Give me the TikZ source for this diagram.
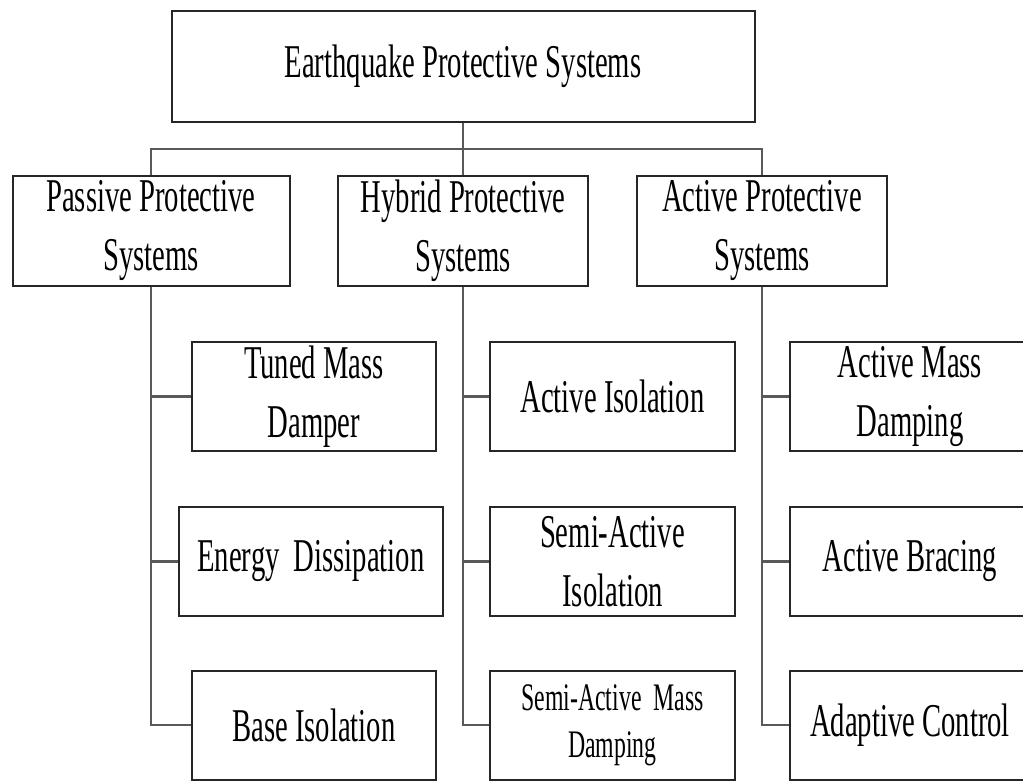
\documentclass[tikz,border=0pt]{standalone}
\usepackage{fontspec}
\setmainfont{Liberation Serif}[FakeStretch=0.61]
\begin{document}
\begin{tikzpicture}[x=1pt,y=-1pt,
		every node/.style={draw=black!85,line width=2pt,rectangle,inner sep=0pt,align=center,
			font=\fontsize{47}{59}\selectfont},
		leaf/.style={minimum width=244pt,minimum height=109pt},
		link/.style={draw=black!65,line width=2.6pt}]
		\clip (0,0) rectangle (1023,780);
		\fill[white] (0,0) rectangle (1023,780);
		% top level
		\node[minimum width=583pt,minimum height=111pt] (eps) at (463,66.5){Earthquake Protective Systems};
		% second level
		\node[minimum width=277pt,minimum height=110pt] (pas) at (151,231){Passive Protective\\Systems};
		\node[minimum width=250pt,minimum height=110pt] (hyb) at (463,231){Hybrid Protective\\Systems};
		\node[minimum width=250pt,minimum height=110pt] (act) at (762,231){Active Protective\\Systems};
		% passive
		\node[leaf] (tmd) at (314,396.5){Tuned Mass\\Damper};
		\node[leaf,minimum width=264pt] (ed) at (311,561.5){Energy\ \ Dissipation};
		\node[leaf] (bi) at (314,725){Base Isolation};
		% hybrid
		\node[leaf,minimum width=245pt] (ai) at (612.5,396.5){Active Isolation};
		\node[leaf,minimum width=245pt] (sai) at (612.5,561.5){Semi-Active\\Isolation};
		\node[leaf,minimum width=245pt,font=\fontsize{39}{47}\selectfont] (samd) at (612.5,725){Semi-Active\ \ Mass\\Damping};
		% active
		\node[leaf,minimum width=240pt] (amd) at (910,396.5){Active Mass\\Damping};
		\node[leaf,minimum width=240pt] (ab) at (910,561.5){Active Bracing};
		\node[leaf,minimum width=240pt] (ac) at (910,725){Adaptive Control};
		\coordinate (bus) at (463,149);
		\draw[link] (eps.south)--(hyb.north);
		\draw[link] (pas.north) |- (bus) -| (act.north);
		\draw[link] (pas.south) |- (bi.west);
		\draw[link] (pas.south |- tmd.west)--(tmd.west);
		\draw[link] (pas.south |- ed.west)--(ed.west);
		\draw[link] (hyb.south) |- (samd.west);
		\draw[link] (hyb.south |- ai.west)--(ai.west);
		\draw[link] (hyb.south |- sai.west)--(sai.west);
		\draw[link] (act.south) |- (ac.west);
		\draw[link] (act.south |- amd.west)--(amd.west);
		\draw[link] (act.south |- ab.west)--(ab.west);
		\end{tikzpicture}
\end{document}
